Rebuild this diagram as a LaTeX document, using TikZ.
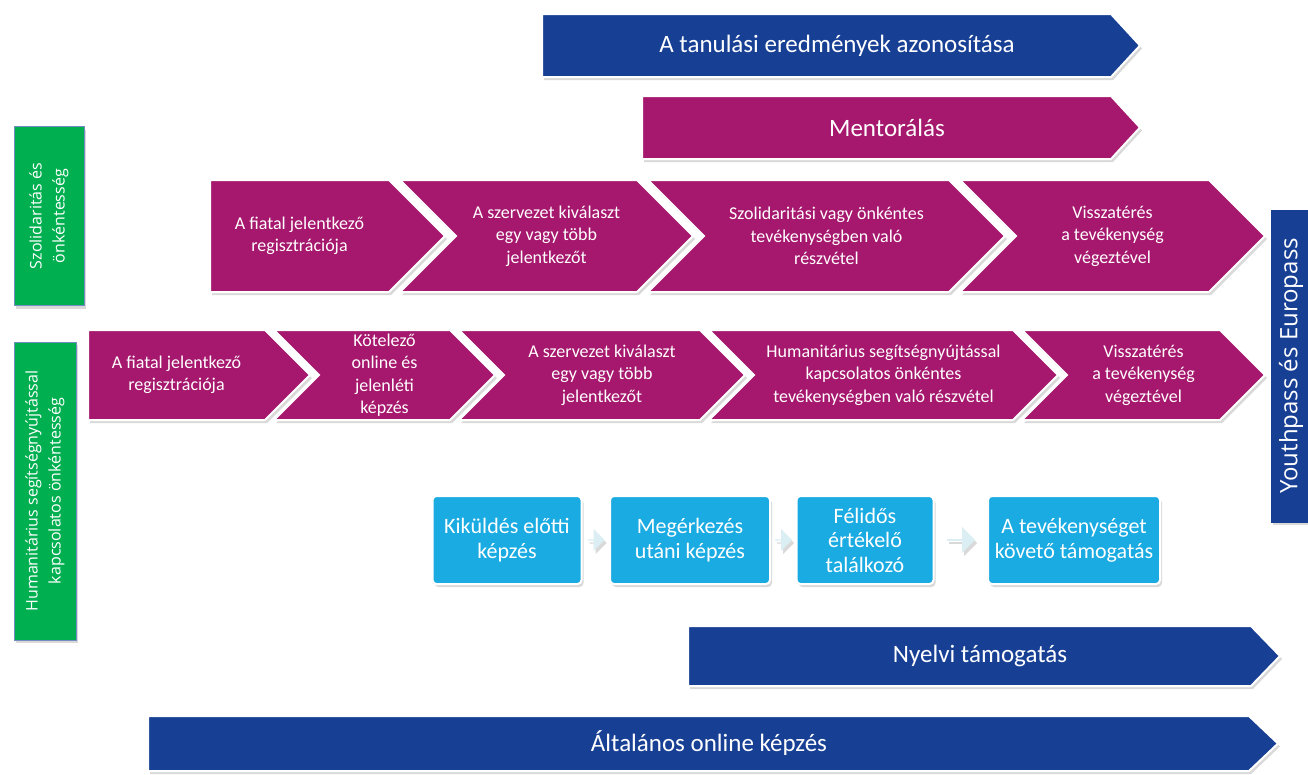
\documentclass[tikz,border=0pt]{standalone}
\usepackage{fontspec}
\setmainfont{Carlito}
\newfontfamily\sidefont{Open Sans}
\usetikzlibrary{shapes.arrows,shadows,calc}
\definecolor{eublue}{HTML}{174095}
\definecolor{eumag}{HTML}{A6176E}
\definecolor{eugreen}{HTML}{00B050}
\definecolor{eucyan}{HTML}{1AABE2}
\definecolor{eupale}{HTML}{DAEEF3}
\tikzstyle{shade}=[drop shadow={shadow xshift=2pt,shadow yshift=-3pt,opacity=0.3}]
\tikzstyle{chevshape}=[shade,draw=white,line width=2pt,line join=miter,fill=eumag]
\tikzstyle{chevtext}=[text=white,align=center,inner sep=0pt,font=\fontsize{18}{22.5}\selectfont]
\tikzstyle{bandtext}=[text=white,inner sep=0pt,font=\fontsize{25}{30}\selectfont]
\tikzstyle{sidel}=[shade,rectangle,rotate=90,fill=eugreen,draw=eublue!60,line width=1pt,text=white,align=center,font=\sidefont\fontsize{16}{23}\selectfont]
\tikzstyle{stepbox}=[shade,rectangle,rounded corners=4pt,fill=eucyan,draw=white,line width=2pt,text=white,align=center,minimum height=88pt,font=\fontsize{22}{24.5}\selectfont]
\tikzstyle{pale}=[shade,single arrow,fill=eupale,minimum height=17pt,minimum width=22pt,single arrow head extend=3pt,inner sep=0pt]
% chevron: name, left, tip, top, bottom, notch (0 or 1), text
\newcommand{\chev}[7]{%
  \draw[chevshape] (#2,#4) -- ({#3-(#5-#4)/2},#4) -- (#3,{(#4+#5)/2}) -- ({#3-(#5-#4)/2},#5)
    -- (#2,#5) -- ({#2+#6*(#5-#4)/2},{(#4+#5)/2}) -- cycle;
  \node[chevtext] (#1) at ({(#2+#6*(#5-#4)/2+#3-(#5-#4)/2)/2},{(#4+#5)/2}) {#7};}
% band: name, colour, left, tip, top, bottom, text
\newcommand{\band}[7]{%
  \draw[chevshape,fill=#2] (#3,#5) -- ({#4-29},#5) -- (#4,{(#5+#6)/2}) -- ({#4-29},#6) -- (#3,#6) -- cycle;
  \node[bandtext] (#1) at ({(#3+#4)/2-4},{(#5+#6)/2}) {#7};}

\begin{document}
\begin{tikzpicture}[x=1pt,y=-1pt]
    \useasboundingbox (0,0) rectangle (1308,774);
    % top bands
    \band{ident}{eublue}{542}{1140}{14}{77}{A tanulási eredmények azonosítása}
    \band{mentor}{eumag}{642}{1140}{96}{159}{Mentorálás}
    % side labels
    \node[sidel,minimum width=179pt,minimum height=70pt] (szol) at (49,216) {Szolidaritás és\\önkéntesség};
    \node[sidel,minimum width=298pt,minimum height=62pt] (hum) at (45,491) {Humanitárius segítségnyújtással\\kapcsolatos önkéntesség};
    \node[sidel,fill=eublue,draw=eublue,minimum width=312pt,minimum height=40pt,font=\sidefont\fontsize{24}{28}\selectfont] (youth) at (1291,366) {Youthpass és Europass};
    % solidarity row
    \chev{s1}{210}{445}{180}{292}{0}{A fiatal jelentkező\\regisztrációja}
    \chev{s2}{400}{693}{180}{292}{1}{A szervezet kiválaszt\\egy vagy több\\jelentkezőt}
    \chev{s3}{648}{1005}{180}{292}{1}{Szolidaritási vagy önkéntes\\tevékenységben való\\részvétel}
    \chev{s4}{960}{1265}{180}{292}{1}{Visszatérés\\a tevékenység\\végeztével}
    % humanitarian row
    \chev{h1}{88}{310}{330}{420}{0}{A fiatal jelentkező\\regisztrációja}
    \chev{h2}{274}{495}{330}{420}{1}{Kötelező\\online és\\jelenléti\\képzés}
    \chev{h3}{459}{745}{330}{420}{1}{A szervezet kiválaszt\\egy vagy több\\jelentkezőt}
    \chev{h4}{709}{1058}{330}{420}{1}{Humanitárius segítségnyújtással\\kapcsolatos önkéntes\\tevékenységben való részvétel}
    \chev{h5}{1022}{1265}{330}{420}{1}{Visszatérés\\a tevékenység\\végeztével}
    % support steps
    \node[stepbox,minimum width=149pt] (k1) at (507,540) {Kiküldés előtti\\képzés};
    \node[stepbox,minimum width=160pt] (k2) at (690,540) {Megérkezés\\utáni képzés};
    \node[stepbox,minimum width=137pt] (k3) at (865,540) {Félidős\\értékelő\\találkozó};
    \node[stepbox,minimum width=172pt] (k4) at (1074,540) {A tevékenységet\\követő támogatás};
    \node[pale] (p1) at ($(k1.east)!0.5!(k2.west)$) {};
    \node[pale] (p2) at ($(k2.east)!0.5!(k3.west)$) {};
    \node[pale,minimum height=28pt,minimum width=26pt] (p3) at ($(k3.east)!0.5!(k4.west)$) {};
    % bottom bands
    \band{nyelv}{eublue}{688}{1280}{626}{686}{Nyelvi támogatás}
    \band{altal}{eublue}{148}{1278}{716}{771}{Általános online képzés}
\end{tikzpicture}
\end{document}
